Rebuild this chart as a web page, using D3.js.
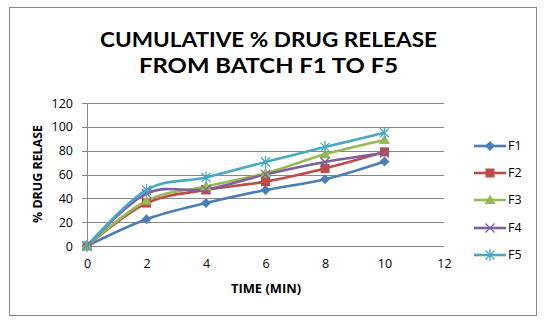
<!DOCTYPE html>
<html><head><meta charset="utf-8">
<script src="https://cdn.jsdelivr.net/npm/d3@7"></script>
<style>body{margin:0;background:#fff}svg{display:block}</style>
</head><body>
<script>
const times = [0, 2, 4, 6, 8, 10];
const seriesNames = ["F1", "F2", "F3", "F4", "F5"];
const F1 = [0, 22.5, 36, 47, 56, 71];
const F2 = [0, 36, 47, 54, 65, 79];
const F3 = [0, 38, 50, 61, 77, 89];
const F4 = [0, 44, 47.5, 60, 70.5, 78];
const F5 = [0, 47, 57.5, 70.5, 83, 95];
const xTicks = [0, 2, 4, 6, 8, 10, 12];
const yTicks = [0, 20, 40, 60, 80, 100, 120];
const colors = ["#4A7EBB", "#BE4B48", "#98B954", "#7D60A0", "#46AAC5"];
const markers = ["diamond", "square", "triangle", "x", "star"];
const values = [F1, F2, F3, F4, F5];

const W = 548, H = 327;
const svg = d3.select("body").append("svg").attr("width", W).attr("height", H)
  .style("font-family", "'Open Sans', sans-serif");

svg.append("rect").attr("x", 9.5).attr("y", 7.5).attr("width", 527).attr("height", 308)
  .attr("fill", "#fff").attr("stroke", "#868686").attr("stroke-width", 1);

const x = d3.scaleLinear().domain([0, 12]).range([87, 444]);
const y = d3.scaleLinear().domain([0, 120]).range([246, 103]);

// gridlines
svg.append("g").selectAll("line").data(yTicks).join("line")
  .attr("x1", 82).attr("x2", x(12)).attr("y1", d => Math.round(y(d)) + 0.5).attr("y2", d => Math.round(y(d)) + 0.5)
  .attr("stroke", "#868686").attr("stroke-width", 1);
svg.append("line").attr("x1", 87.5).attr("x2", 87.5).attr("y1", y(120)).attr("y2", y(0) + 5)
  .attr("stroke", "#868686");

// axes labels
const xAxis = d3.axisBottom(x).tickValues(xTicks).tickSize(0).tickPadding(0);
const gx = svg.append("g").attr("transform", "translate(0,259)").call(xAxis);
gx.select(".domain").remove();
gx.selectAll("text").attr("fill", "#000").attr("dy", "0.71em")
  .style("font-family", "'Open Sans', sans-serif").attr("font-size", 12.5);

const yAxis = d3.axisLeft(y).tickValues(yTicks).tickSize(0).tickPadding(0);
const gy = svg.append("g").attr("transform", "translate(73,0)").call(yAxis);
gy.select(".domain").remove();
gy.selectAll("text").attr("fill", "#000").style("font-family", "'Open Sans', sans-serif").attr("font-size", 12.5);

// titles
const title = svg.append("g").attr("font-weight", "bold").attr("text-anchor", "middle")
  .style("font-family", "Lato, sans-serif");
title.append("text").attr("x", 268.5).attr("y", 47).attr("font-size", 21)
  .attr("textLength", 337).attr("lengthAdjust", "spacingAndGlyphs").text("CUMULATIVE % DRUG RELEASE");
title.append("text").attr("x", 268.5).attr("y", 73).attr("font-size", 21)
  .attr("textLength", 259).attr("lengthAdjust", "spacingAndGlyphs").text("FROM BATCH F1 TO F5");

svg.append("text").attr("x", 266).attr("y", 293).attr("text-anchor", "middle")
  .attr("font-weight", "bold").attr("font-size", 12.5).style("font-family", "'Open Sans', sans-serif")
  .attr("textLength", 70).attr("lengthAdjust", "spacingAndGlyphs").text("TIME (MIN)");
svg.append("text").attr("transform", "translate(42,174) rotate(-90)").attr("text-anchor", "middle")
  .attr("font-weight", "bold").attr("font-size", 12.5).style("font-family", "'Open Sans', sans-serif")
  .attr("textLength", 98).attr("lengthAdjust", "spacingAndGlyphs").text("% DRUG RELASE");

function drawMarker(g, type, color) {
  if (type === "diamond") {
    g.append("path").attr("d", "M0,-5L5,0L0,5L-5,0Z").attr("fill", color);
  } else if (type === "square") {
    g.append("rect").attr("x", -4.5).attr("y", -4.5).attr("width", 9).attr("height", 9).attr("fill", color);
  } else if (type === "triangle") {
    g.append("path").attr("d", "M0,-5.5L5.5,4L-5.5,4Z").attr("fill", color);
  } else if (type === "x") {
    g.append("path").attr("d", "M-4.5,-4.5L4.5,4.5M-4.5,4.5L4.5,-4.5").attr("stroke", color).attr("stroke-width", 1.3).attr("fill", "none");
  } else {
    g.append("path").attr("d", "M-4.5,-4.5L4.5,4.5M-4.5,4.5L4.5,-4.5M0,-6L0,6").attr("stroke", color).attr("stroke-width", 1.3).attr("fill", "none");
  }
}

const line = d3.line().x((d, i) => x(times[i])).y(d => y(d)).curve(d3.curveCatmullRom.alpha(0));

values.forEach((vals, si) => {
  svg.append("path").datum(vals).attr("d", line).attr("fill", "none")
    .attr("stroke", colors[si]).attr("stroke-width", 2.6).attr("stroke-linejoin", "round");
});
values.forEach((vals, si) => {
  vals.forEach((v, i) => {
    const g = svg.append("g").attr("transform", `translate(${x(times[i])},${y(v)})`);
    drawMarker(g, markers[si], colors[si]);
  });
});

// legend
const legY = [146, 173, 200, 228, 255];
seriesNames.forEach((name, si) => {
  const g = svg.append("g").attr("transform", `translate(0,${legY[si]})`);
  g.append("line").attr("x1", 474).attr("x2", 506).attr("stroke", colors[si]).attr("stroke-width", 2.6);
  const m = g.append("g").attr("transform", "translate(490,0)");
  drawMarker(m, markers[si], colors[si]);
  g.append("text").attr("x", 508).attr("y", 0).attr("dy", "0.35em").attr("font-size", 12.5)
    .style("font-family", "'Open Sans', sans-serif").text(name);
});
</script>
</body></html>
